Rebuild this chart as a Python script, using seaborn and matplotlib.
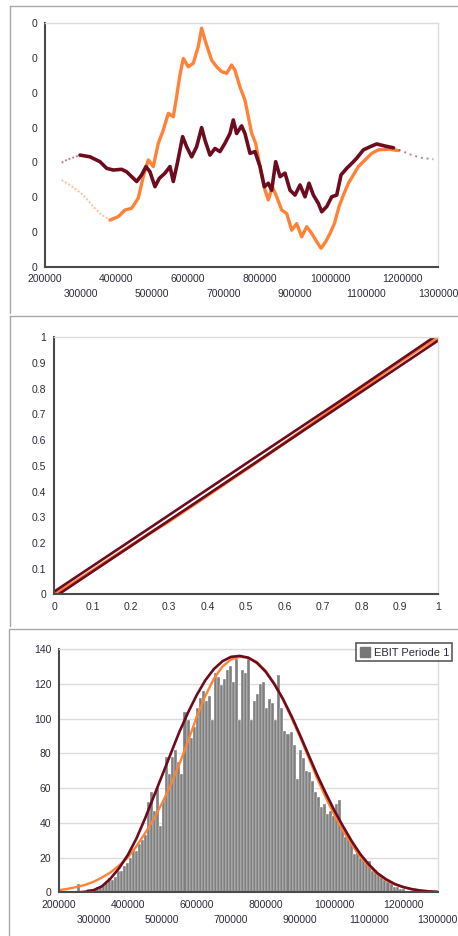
import numpy as np
import pandas as pd
import matplotlib
matplotlib.use("Agg")
import matplotlib.pyplot as plt
import seaborn as sns
from matplotlib.lines import Line2D
from matplotlib.patches import Patch

# ---------------- data ----------------
# Panel 1: two trend series
trend_dark_x = [246600, 260600, 297900, 325900, 353900, 372500, 391200, 414500, 428500, 442500,
                456500, 470500, 482600, 493800, 507800, 519900, 535800, 549800, 559100, 570300,
                585200, 596400, 610400, 624400, 638400, 647700, 661700, 675700, 689700, 703700,
                717700, 727000, 736300, 750300, 759700, 773800, 787800, 801800, 813900, 825100,
                834500, 845700, 857800, 871800, 885800, 899800, 913800, 927800, 939000, 951200,
                965200, 974500, 988500, 1002500, 1016500, 1028600, 1044500, 1058500, 1072500, 1091200,
                1109800, 1128500, 1151800, 1175200, 1198500, 1226500, 1254500, 1287100]
trend_dark_y = [0.299, 0.307, 0.321, 0.316, 0.302, 0.283, 0.278, 0.280, 0.273, 0.259,
                0.245, 0.264, 0.288, 0.273, 0.230, 0.254, 0.269, 0.288, 0.245, 0.297,
                0.374, 0.345, 0.316, 0.345, 0.400, 0.364, 0.321, 0.340, 0.331, 0.355,
                0.383, 0.422, 0.383, 0.405, 0.383, 0.326, 0.331, 0.288, 0.230, 0.240,
                0.220, 0.302, 0.259, 0.269, 0.220, 0.206, 0.235, 0.201, 0.240, 0.206,
                0.182, 0.158, 0.173, 0.201, 0.206, 0.264, 0.283, 0.297, 0.312, 0.336,
                0.345, 0.353, 0.347, 0.342, 0.333, 0.321, 0.313, 0.309]
trend_orange_x = [246600, 269900, 307200, 335200, 358500, 381800, 405100, 423800, 442500, 461100,
                  475100, 489100, 503100, 517100, 531100, 545100, 559100, 568400, 577700, 587100,
                  601100, 615000, 629000, 638400, 647700, 657000, 666400, 680400, 694400, 708400,
                  722400, 731700, 745700, 759700, 778400, 789600, 801800, 815800, 825100, 836300,
                  848500, 862500, 876500, 890500, 904500, 918500, 932500, 946500, 960500, 972600,
                  985700, 997900, 1010000, 1023100, 1035200, 1049200, 1063200, 1077200, 1095900, 1114500,
                  1133200, 1161200, 1189200]
trend_orange_y = [0.249, 0.235, 0.206, 0.173, 0.149, 0.134, 0.144, 0.163, 0.168, 0.197,
                  0.259, 0.307, 0.288, 0.355, 0.393, 0.441, 0.431, 0.489, 0.551, 0.599,
                  0.575, 0.585, 0.633, 0.686, 0.652, 0.623, 0.594, 0.575, 0.561, 0.556,
                  0.580, 0.565, 0.517, 0.479, 0.384, 0.355, 0.288, 0.220, 0.192, 0.230,
                  0.201, 0.163, 0.153, 0.105, 0.124, 0.086, 0.115, 0.096, 0.072, 0.053,
                  0.072, 0.096, 0.124, 0.173, 0.206, 0.240, 0.264, 0.288, 0.307, 0.326,
                  0.336, 0.338, 0.334]
trend_yticks = [0.0, 0.1, 0.2, 0.3, 0.4, 0.5, 0.6, 0.7]

# Panel 2: P-P plot lines
pp_upper_x = [0.0, 0.25, 0.5, 0.75, 0.988]
pp_upper_y = [0.010, 0.259, 0.509, 0.758, 1.0]
pp_lower_x = [0.012, 0.25, 0.5, 0.75, 1.0]
pp_lower_y = [0.0, 0.238, 0.488, 0.738, 0.988]
pp_orange_x = [0.0, 0.05, 0.1, 0.15, 0.2, 0.25, 0.3, 0.35, 0.4, 0.45, 0.5,
               0.55, 0.6, 0.65, 0.7, 0.75, 0.8, 0.85, 0.9, 0.95, 1.0]
pp_orange_y = [0.0, 0.044, 0.092, 0.141, 0.189, 0.238, 0.285, 0.335, 0.385, 0.436, 0.486,
               0.537, 0.589, 0.641, 0.694, 0.747, 0.8, 0.853, 0.905, 0.955, 1.0]
pp_ticks = [0, 0.1, 0.2, 0.3, 0.4, 0.5, 0.6, 0.7, 0.8, 0.9, 1]
pp_labels = ["0", "0.1", "0.2", "0.3", "0.4", "0.5", "0.6", "0.7", "0.8", "0.9", "1"]

# Panel 3: histogram
hist_start = 236000
hist_width = 8800
hist_counts = [1, 0, 5, 1, 1, 2, 2, 2, 3, 3,
               4, 6, 8, 7, 9, 12, 12, 15, 17, 20,
               25, 24, 28, 30, 33, 52, 58, 47, 60, 38,
               53, 78, 68, 78, 82, 75, 68, 104, 99, 89,
               95, 106, 112, 116, 110, 113, 99, 126, 124, 119,
               123, 128, 130, 121, 134, 99, 128, 126, 134, 99,
               110, 114, 120, 121, 106, 111, 109, 99, 125, 106,
               93, 91, 92, 85, 65, 82, 77, 70, 69, 64,
               58, 55, 49, 51, 45, 47, 44, 51, 53, 37,
               32, 32, 29, 22, 24, 20, 19, 17, 18, 12,
               13, 11, 9, 7, 6, 5, 3, 3, 2, 2,
               1, 1, 1, 1, 0, 1, 0, 0, 1, 1]
curve_dark_x = [260000, 275000, 300000, 325000, 350000, 375000, 400000, 425000, 450000, 475000,
                500000, 525000, 550000, 575000, 600000, 625000, 650000, 675000, 700000, 725000,
                750000, 775000, 800000, 825000, 850000, 875000, 900000, 925000, 950000, 975000,
                1000000, 1025000, 1050000, 1075000, 1100000, 1125000, 1150000, 1175000, 1200000,
                1225000, 1250000, 1275000, 1300000]
curve_dark_y = [0, 0.3, 1.2, 3.5, 8, 14, 21.5, 31, 42.5, 55,
                67.5, 80, 92.5, 103.5, 113.5, 122, 128.5, 133, 135.5, 136,
                135, 132, 127, 120, 111.5, 101.5, 90.5, 79, 67.5, 57,
                47, 38, 29.5, 22, 16, 11, 7.5, 4.8, 3,
                1.8, 1, 0.5, 0.2]
curve_orange_x = [200000, 225000, 250000, 275000, 300000, 325000, 350000, 375000, 400000, 425000,
                  450000, 475000, 500000, 525000, 550000, 575000, 600000, 625000, 650000, 675000,
                  700000, 725000, 750000, 775000, 800000, 825000, 850000, 875000, 900000, 925000,
                  950000, 975000, 1000000, 1025000, 1050000, 1075000, 1100000, 1125000, 1150000,
                  1175000, 1200000, 1225000, 1250000, 1275000, 1300000]
curve_orange_y = [1.2, 2, 3, 4.2, 6, 8.5, 11.5, 15.5, 20, 26.5,
                  34, 42, 51.5, 62, 74, 87, 101, 113, 123, 130,
                  134, 135.5, 135, 132.5, 127.5, 120, 111, 100.5, 89.5, 77.5,
                  65.5, 54.5, 44.5, 35.5, 27.5, 20.5, 15, 10.5, 7,
                  4.5, 3, 1.8, 1, 0.6, 0.3]
money_ticks = [200000, 300000, 400000, 500000, 600000, 700000, 800000, 900000,
               1000000, 1100000, 1200000, 1300000]
hist_yticks = [0, 20, 40, 60, 80, 100, 120, 140]
legend_label = "EBIT Periode 1"

# ---------------- style ----------------
DARK = "#6e0c1f"
ORANGE = "#ff8236"
AXIS = "#4a4a4a"
LIGHT = "#dcdcdc"
LABEL = "#2c2c38"
FRAME = "#a8a8a8"

sns.set_theme(style="white")
plt.rcParams["font.family"] = ["Liberation Sans", "DejaVu Sans"]

W, H = 458, 936
fig = plt.figure(figsize=(W / 100, H / 100), dpi=100)
fig.patch.set_facecolor("white")


def axes_px(x0, x1, ytop, ybot):
    return fig.add_axes([x0 / W, 1 - ybot / H, (x1 - x0) / W, (ybot - ytop) / H])


def style_axes(ax):
    for s in ("left", "bottom"):
        ax.spines[s].set_color(AXIS)
        ax.spines[s].set_linewidth(1.5)
    for s in ("top", "right"):
        ax.spines[s].set_color(LIGHT)
        ax.spines[s].set_linewidth(1.0)
    ax.tick_params(axis="both", which="both", direction="inout", length=7, width=1.2,
                   color=AXIS, labelsize=7.5, labelcolor=LABEL, pad=2)
    ax.set_facecolor("white")
    ax.set_xlabel("")
    ax.set_ylabel("")


def money_axis(ax):
    # two staggered rows of labels: even ticks on the first row, odd ticks below
    ax.set_xticks(money_ticks[0::2], [str(v) for v in money_ticks[0::2]])
    ax.set_xticks(money_ticks[1::2], [str(v) for v in money_ticks[1::2]], minor=True)
    ax.tick_params(axis="x", which="minor", pad=12.5)


# ---------------- panel frames ----------------
def fline(x0, y0, x1, y1):
    fig.add_artist(Line2D([x0 / W, x1 / W], [1 - y0 / H, 1 - y1 / H],
                          transform=fig.transFigure, color=FRAME, lw=1.0))

fline(10, 6, 460, 6)
fline(10, 6, 10, 313)
fline(10, 316, 460, 316)
fline(10, 316, 10, 626)
fline(9, 629, 460, 629)
fline(9, 629, 9, 940)

# ---------------- panel 1 ----------------
ax1 = axes_px(45, 438, 23.3, 266.7)
d1 = pd.DataFrame({"x": trend_dark_x, "y": trend_dark_y})
o1 = pd.DataFrame({"x": trend_orange_x, "y": trend_orange_y})
sns.lineplot(data=o1[o1.x <= 405100], x="x", y="y", ax=ax1, color=ORANGE, lw=1.4, alpha=0.5,
             ls=(0, (1, 1)))
sns.lineplot(data=o1[o1.x >= 381800], x="x", y="y", ax=ax1, color=ORANGE, lw=2.4)
sns.lineplot(data=d1[d1.x <= 297900], x="x", y="y", ax=ax1, color=DARK, lw=1.4, alpha=0.5,
             ls=(0, (1, 1)))
sns.lineplot(data=d1[d1.x >= 1175200], x="x", y="y", ax=ax1, color=DARK, lw=1.4, alpha=0.5,
             ls=(0, (1, 2)))
sns.lineplot(data=d1[(d1.x >= 297900) & (d1.x <= 1175200)], x="x", y="y", ax=ax1,
             color=DARK, lw=2.6)
ax1.set_xlim(200000, 1300000)
ax1.set_ylim(0, 0.7)
money_axis(ax1)
ax1.set_yticks(trend_yticks, [str(int(v)) for v in trend_yticks])
style_axes(ax1)
ax1.tick_params(axis="x", which="minor", pad=12.5)

# ---------------- panel 2 ----------------
ax2 = axes_px(54, 438.3, 337.3, 594.3)
sns.lineplot(x=pp_orange_x, y=pp_orange_y, ax=ax2, color=ORANGE, lw=2.4)
sns.lineplot(x=pp_upper_x, y=pp_upper_y, ax=ax2, color=DARK, lw=1.9)
sns.lineplot(x=pp_lower_x, y=pp_lower_y, ax=ax2, color=DARK, lw=1.9)
ax2.set_xlim(0, 1)
ax2.set_ylim(0, 1)
ax2.set_xticks(pp_ticks, pp_labels)
ax2.set_yticks(pp_ticks, pp_labels)
style_axes(ax2)

# ---------------- panel 3 ----------------
ax3 = axes_px(59, 437.7, 649, 892.3)
n_bins = len(hist_counts)
hist_df = pd.DataFrame({
    "value": [hist_start + hist_width * (i + 0.5) for i in range(n_bins)],
    "count": hist_counts,
})
ax3.yaxis.grid(True, color=LIGHT, lw=1.0)
ax3.set_axisbelow(True)
sns.histplot(data=hist_df, x="value", weights="count", binwidth=hist_width,
             binrange=(hist_start, hist_start + hist_width * n_bins), ax=ax3,
             color="#7f7f7f", alpha=1.0, edgecolor="white", linewidth=0.25)
sns.lineplot(x=curve_orange_x, y=curve_orange_y, ax=ax3, color=ORANGE, lw=1.7)
sns.lineplot(x=curve_dark_x, y=curve_dark_y, ax=ax3, color=DARK, lw=1.9)
ax3.set_xlim(200000, 1300000)
ax3.set_ylim(0, 140)
money_axis(ax3)
ax3.set_yticks(hist_yticks, [str(v) for v in hist_yticks])
style_axes(ax3)
ax3.tick_params(axis="x", which="minor", pad=12.5)
leg = ax3.legend(handles=[Patch(facecolor="#777777", edgecolor="#777777", label=legend_label)],
                 loc="upper right", bbox_to_anchor=(1.0386, 1.0234), borderaxespad=0,
                 fancybox=False, frameon=True, fontsize=8, handlelength=0.9, handleheight=1.1,
                 handletextpad=0.35, borderpad=0.3)
leg.get_frame().set_edgecolor("#333333")
leg.get_frame().set_linewidth(1.2)
for t in leg.get_texts():
    t.set_color(LABEL)

fig.savefig("out.png", dpi=100)
